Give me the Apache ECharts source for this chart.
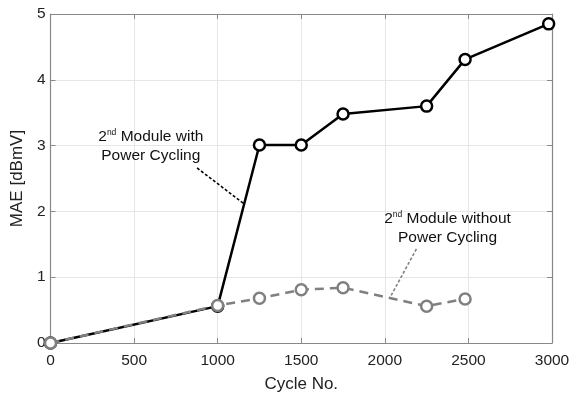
<!DOCTYPE html>
<html><head><meta charset="utf-8">
<script src="https://cdn.jsdelivr.net/npm/echarts@6/dist/echarts.min.js"></script>
<style>html,body{margin:0;padding:0;background:#fff}#c{width:571px;height:394px}</style>
</head><body><div id="c"></div>
<script>
const withPC_x = [0, 1000, 1250, 1500, 1750, 2250, 2480, 2980];
const withPC_y = [0, 0.56, 3.01, 3.01, 3.48, 3.60, 4.31, 4.85];
const withoutPC_x = [0, 1000, 1250, 1500, 1750, 2250, 2480];
const withoutPC_y = [0, 0.57, 0.68, 0.81, 0.84, 0.56, 0.67];
const xTicks = [0, 500, 1000, 1500, 2000, 2500, 3000];
const yTicks = [0, 1, 2, 3, 4, 5];

const font = 'Liberation Sans, Arial, sans-serif';
const chart = echarts.init(document.getElementById('c'));
const pairs = (xs, ys) => xs.map((x, i) => [x, ys[i]]);
const rich = {
  a: {fontSize: 15.5, fontFamily: font, color: '#111', lineHeight: 19},
  s: {fontSize: 8.5, fontFamily: font, color: '#111', padding: [0, 0, 8, 0], lineHeight: 19}
};
const boxAxis = {
  axisLine: {show: true, onZero: false, lineStyle: {color: '#888', width: 1.2}},
  axisTick: {show: true, inside: true, length: 5, lineStyle: {color: '#888'}},
  axisLabel: {show: false}, splitLine: {show: false}
};
chart.setOption({
  animation: false,
  backgroundColor: '#fff',
  grid: {left: 50.5, right: 19, top: 14, bottom: 51, show: false, containLabel: false, outerBoundsMode: 'none'},
  xAxis: [{
    type: 'value', min: 0, max: 3000, interval: 500,
    name: 'Cycle No.', nameLocation: 'middle', nameGap: 33,
    nameTextStyle: {fontSize: 17, fontFamily: font, color: '#222'},
    axisLine: {onZero: false, lineStyle: {color: '#888', width: 1.2}},
    axisTick: {inside: true, length: 5, lineStyle: {color: '#888'}},
    axisLabel: {fontSize: 15.5, fontFamily: font, color: '#222', margin: 10,
      formatter: v => xTicks.includes(v) ? String(v) : ''},
    splitLine: {show: true, lineStyle: {color: '#e6e6e6', width: 1}}
  }, Object.assign({type: 'value', position: 'top', min: 0, max: 3000, interval: 500}, boxAxis)],
  yAxis: [{
    type: 'value', min: 0, max: 5, interval: 1,
    name: 'MAE [dBmV]', nameLocation: 'middle', nameGap: 22,
    nameTextStyle: {fontSize: 17, fontFamily: font, color: '#222'},
    axisLine: {show: true, onZero: false, lineStyle: {color: '#888', width: 1.2}},
    axisTick: {show: true, inside: true, length: 5, lineStyle: {color: '#888'}},
    axisLabel: {fontSize: 15.5, fontFamily: font, color: '#222', margin: 5,
      formatter: v => yTicks.includes(v) ? String(v) : ''},
    splitLine: {show: true, lineStyle: {color: '#e6e6e6', width: 1}}
  }, Object.assign({type: 'value', position: 'right', min: 0, max: 5, interval: 1}, boxAxis)],
  series: [{
    name: 'with', type: 'line', data: pairs(withPC_x, withPC_y),
    symbol: 'circle', symbolSize: 11,
    lineStyle: {color: '#000', width: 2.5},
    itemStyle: {color: '#fff', borderColor: '#000', borderWidth: 2.5},
    z: 3,
    markLine: {
      silent: true, symbol: ['none', 'none'],
      lineStyle: {color: '#000', type: [3, 2], width: 1.6},
      label: {show: false},
      data: [[{coord: [877, 2.66]}, {coord: [1155, 2.12]}]]
    },
    markPoint: {
      symbol: 'circle', symbolSize: 0,
      label: {show: true, position: 'inside', align: 'center', verticalAlign: 'middle',
        formatter: '{a|2}{s|nd}{a| Module with}\n{a|Power Cycling}', rich: rich},
      data: [{coord: [600, 2.99]}]
    }
  }, {
    name: 'without', type: 'line', data: pairs(withoutPC_x, withoutPC_y),
    symbol: 'circle', symbolSize: 11,
    lineStyle: {color: '#808080', width: 2.5, type: [9, 6]},
    itemStyle: {color: '#fff', borderColor: '#808080', borderWidth: 2.5},
    z: 4,
    markLine: {
      silent: true, symbol: ['none', 'none'],
      lineStyle: {color: '#808080', type: [3, 2], width: 1.6},
      label: {show: false},
      data: [[{coord: [2189, 1.43]}, {coord: [2033, 0.70]}]]
    },
    markPoint: {
      symbol: 'circle', symbolSize: 0,
      label: {show: true, position: 'inside', align: 'center', verticalAlign: 'middle',
        formatter: '{a|2}{s|nd}{a| Module without}\n{a|Power Cycling}', rich: rich},
      data: [{coord: [2375, 1.75]}]
    }
  }]
});
</script></body></html>
